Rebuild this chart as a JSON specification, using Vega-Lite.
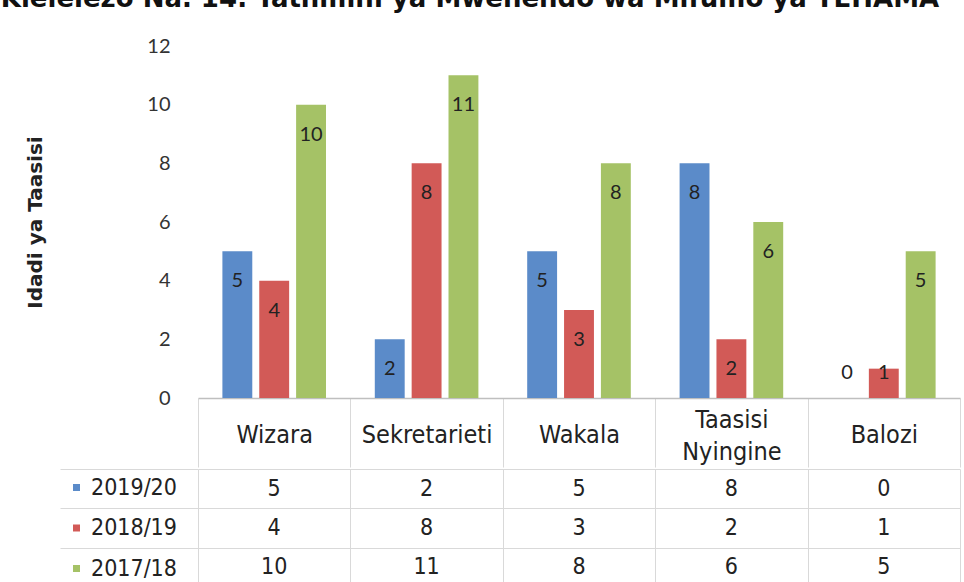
{
  "$schema": "https://vega.github.io/schema/vega-lite/v6.json",
  "autosize": {"type": "pad"},
  "padding": {"left": 0, "top": -14, "right": 0, "bottom": -5},
  "background": "white",
  "title": {
    "text": "Kielelezo Na. 14: Tathmini ya Mwenendo wa Mifumo ya TEHAMA",
    "anchor": "start",
    "dx": -25,
    "offset": 3,
    "baseline": "alphabetic",
    "font": "DejaVu Sans",
    "fontSize": 26,
    "fontWeight": "bold",
    "color": "#111111"
  },
  "data": {
    "values": [
      {"cat": "Wizara", "year": "2019/20", "value": 5},
      {"cat": "Wizara", "year": "2018/19", "value": 4},
      {"cat": "Wizara", "year": "2017/18", "value": 10},
      {"cat": "Sekretarieti", "year": "2019/20", "value": 2},
      {"cat": "Sekretarieti", "year": "2018/19", "value": 8},
      {"cat": "Sekretarieti", "year": "2017/18", "value": 11},
      {"cat": "Wakala", "year": "2019/20", "value": 5},
      {"cat": "Wakala", "year": "2018/19", "value": 3},
      {"cat": "Wakala", "year": "2017/18", "value": 8},
      {"cat": "Taasisi Nyingine", "year": "2019/20", "value": 8},
      {"cat": "Taasisi Nyingine", "year": "2018/19", "value": 2},
      {"cat": "Taasisi Nyingine", "year": "2017/18", "value": 6},
      {"cat": "Balozi", "year": "2019/20", "value": 0},
      {"cat": "Balozi", "year": "2018/19", "value": 1},
      {"cat": "Balozi", "year": "2017/18", "value": 5}
    ]
  },
  "spacing": 0,
  "vconcat": [
    {
      "width": 762,
      "height": 352,
      "encoding": {
        "x": {
          "field": "cat",
          "type": "nominal",
          "sort": ["Wizara", "Sekretarieti", "Wakala", "Taasisi Nyingine", "Balozi"],
          "scale": {"paddingInner": 0, "paddingOuter": 0},
          "axis": {
            "title": null,
            "orient": "bottom",
            "domainColor": "#bfbfbf",
            "domainWidth": 1.5,
            "tickBand": "extent",
            "tickSize": 69,
            "tickColor": "#d9d9d9",
            "labelFont": "DejaVu Sans Condensed, Liberation Sans Narrow, DejaVu Sans",
            "labelFontSize": 25,
            "labelColor": "#222222",
            "labelPadding": {"condition": {"test": "datum.value == 'Taasisi Nyingine'", "value": -48}, "value": -32.5},
            "labelBaseline": "middle",
            "labelAngle": 0,
            "labelLineHeight": 32,
            "labelBound": false,
            "labelLimit": 0,
            "labelExpr": "datum.label == 'Taasisi Nyingine' ? ['Taasisi', 'Nyingine'] : datum.label"
          }
        },
        "xOffset": {
          "field": "year",
          "type": "nominal",
          "sort": ["2019/20", "2018/19", "2017/18"],
          "scale": {"paddingInner": 0.189, "paddingOuter": 0.662}
        }
      },
      "layer": [
        {
          "mark": {"type": "bar"},
          "encoding": {
            "y": {
              "field": "value",
              "type": "quantitative",
              "scale": {"domain": [0, 12], "nice": false},
              "axis": {
                "title": "Idadi ya Taasisi",
                "values": [0, 2, 4, 6, 8, 10, 12],
                "grid": false,
                "domain": false,
                "ticks": false,
                "labelFont": "Lato",
                "labelFontSize": 20,
                "labelColor": "#333333",
                "labelPadding": 28,
                "titleFont": "DejaVu Sans",
                "titleFontSize": 20,
                "titleFontWeight": "bold",
                "titleColor": "#222222",
                "titlePadding": 101
              }
            },
            "color": {
              "field": "year",
              "type": "nominal",
              "sort": ["2019/20", "2018/19", "2017/18"],
              "scale": {"domain": ["2019/20", "2018/19", "2017/18"], "range": ["#5b8bc9", "#d25a57", "#a5c266"]},
              "legend": {
                "orient": "none",
                "legendX": -133,
                "legendY": 430,
                "direction": "vertical",
                "title": null,
                "symbolType": "square",
                "symbolSize": 49,
                "symbolStrokeWidth": 0,
                "labelFont": "DejaVu Sans Condensed, Liberation Sans Narrow, DejaVu Sans",
                "labelFontSize": 23,
                "labelColor": "#222222",
                "labelOffset": 3,
                "rowPadding": 16.5
              }
            }
          }
        },
        {
          "transform": [{"calculate": "max(datum.value - 1.02, 0.85)", "as": "ly"}],
          "mark": {"type": "text", "font": "Lato", "fontSize": 20, "color": "#222222", "baseline": "middle"},
          "encoding": {
            "y": {"field": "ly", "type": "quantitative", "title": "Idadi ya Taasisi"},
            "text": {"field": "value", "type": "quantitative"}
          }
        }
      ]
    },
    {
      "width": 762,
      "height": 118,
      "mark": {"type": "text", "font": "DejaVu Sans Condensed, Liberation Sans Narrow, DejaVu Sans", "fontSize": 23, "color": "#222222", "baseline": "middle"},
      "encoding": {
        "x": {
          "field": "cat",
          "type": "nominal",
          "sort": ["Wizara", "Sekretarieti", "Wakala", "Taasisi Nyingine", "Balozi"],
          "scale": {"paddingInner": 0, "paddingOuter": 0},
          "axis": {"orient": "top", "title": null, "labels": false, "ticks": false, "domain": false, "grid": true, "gridColor": "#d9d9d9", "tickBand": "extent"}
        },
        "y": {
          "field": "year",
          "type": "nominal",
          "sort": ["2019/20", "2018/19", "2017/18"],
          "scale": {"paddingInner": 0, "paddingOuter": 0},
          "axis": {"title": null, "labels": false, "domain": false, "ticks": true, "tickSize": 138, "tickColor": "#d9d9d9", "tickBand": "extent", "grid": true, "gridColor": "#d9d9d9"}
        },
        "text": {"field": "value", "type": "quantitative"}
      }
    }
  ],
  "config": {
    "view": {"stroke": null}
  }
}
